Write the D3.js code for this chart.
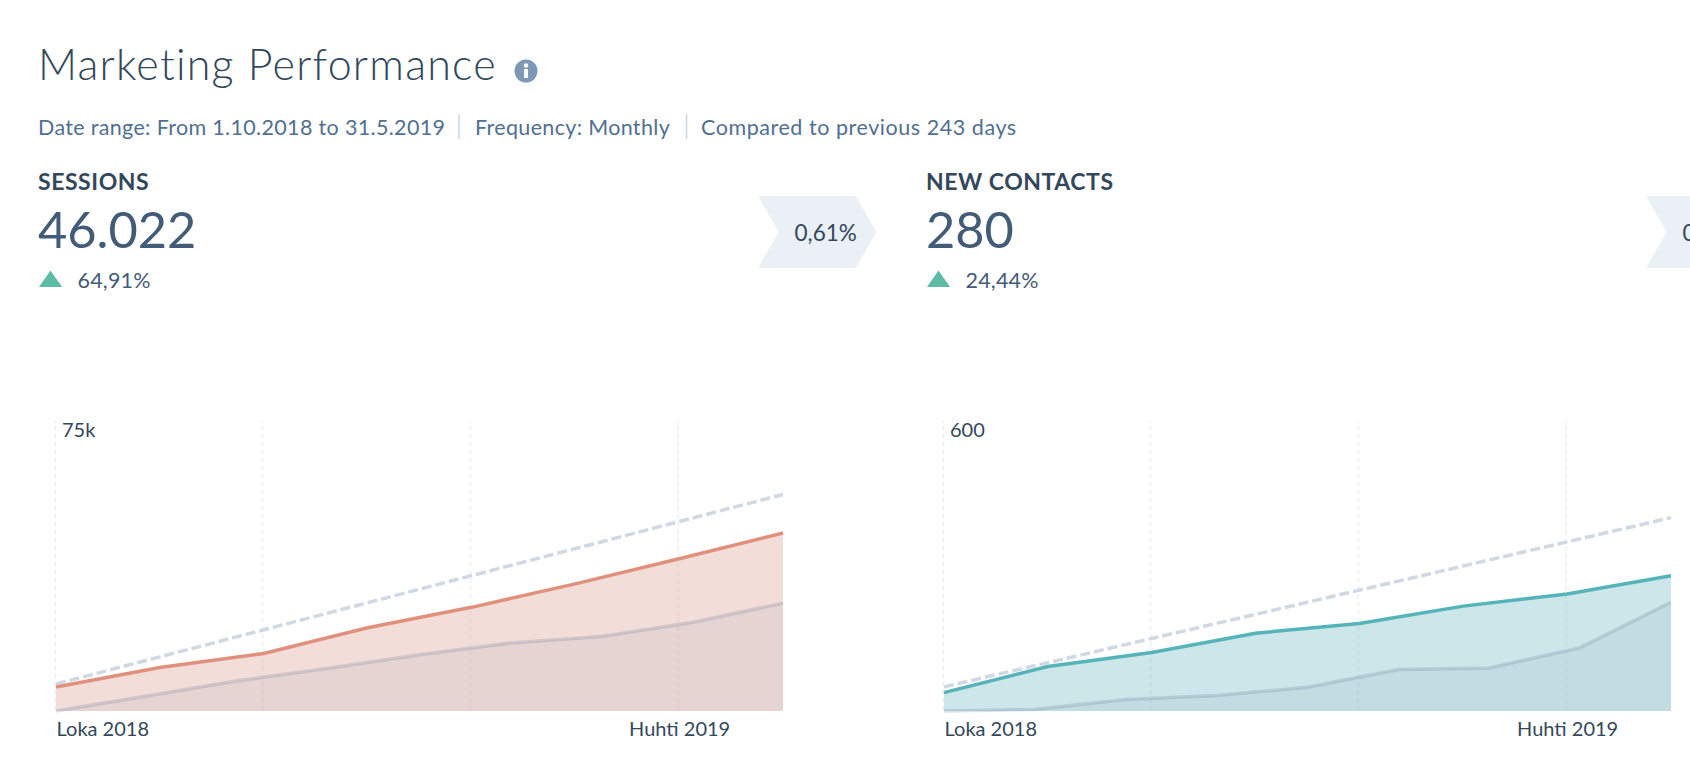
<!DOCTYPE html>
<html>
<head>
<meta charset="utf-8">
<script src="https://cdnjs.cloudflare.com/ajax/libs/d3/7.8.5/d3.min.js"></script>
<style>
    html, body { margin: 0; padding: 0; background: #fff; overflow: hidden; }
    svg { display: block; font-family: Lato, "Open Sans", sans-serif; }
    .grid line { stroke: #f1f5f9; stroke-width: 2; stroke-dasharray: 5 3; transform: translateX(-1.5px); }
    .axis-label text { fill: #33475b; font-size: 20px; font-family: Lato, sans-serif; }
</style>
</head>
<body>
<svg id="chart" width="1690" height="770"></svg>
<script>
const months = ["Loka 2018", "Marras 2018", "Joulu 2018", "Tammi 2019", "Helmi 2019", "Maalis 2019", "Huhti 2019", "Touko 2019"];
const priorMonths = ["Tammi 2018", "Helmi 2018", "Maalis 2018", "Huhti 2018", "Touko 2018", "Kesä 2018", "Heinä 2018", "Elo 2018", "Syys 2018"];
const gridMonths = ["Loka 2018", "Joulu 2018", "Helmi 2019", "Huhti 2019"];
const labelledMonths = ["Loka 2018", "Huhti 2019"];

const sessionsValues = [6230, 11240, 14870, 21540, 26810, 32880, 39370, 46022];
const sessionsPrior = [0, 3900, 7800, 11080, 14530, 17570, 19280, 22900, 27906];
const sessionsGoal = [7000, 14000, 21000, 28000, 35000, 42000, 49000, 56000];

const contactsValues = [38, 92, 121, 161, 181, 217, 242, 280];
const contactsPrior = [0, 3, 24, 32, 49, 86, 89, 131, 225];
const contactsGoal = [50, 100, 150, 200, 250, 300, 350, 400];

const subtitleLabels = ["Date range: From 1.10.2018 to 31.5.2019", "Frequency: Monthly", "Compared to previous 243 days"];

const svg = d3.select("#chart");

const plotTop = 421;
const plotBottom = 711;
const plotWidth = 727;
const subtitleX = [38, 475, 701];
const subtitleSpacing = [0.33, 0.33, 0.55];

// page header
svg.append("text").attr("x", 38).attr("y", 80)
    .attr("fill", "#33475b").attr("font-size", 43).attr("font-weight", 300)
    .attr("letter-spacing", 1.24)
    .text("Marketing Performance");

const info = svg.append("g").attr("transform", "translate(526,71)");
info.append("circle").attr("r", 11.5).attr("fill", "#7f98b6");
info.append("circle").attr("cy", -5.5).attr("r", 2.2).attr("fill", "#fff");
info.append("rect").attr("x", -2).attr("y", -2).attr("width", 4).attr("height", 9).attr("fill", "#fff");

svg.selectAll(".subtitle").data(subtitleLabels).enter().append("text")
    .attr("class", "subtitle")
    .attr("x", (d, i) => subtitleX[i]).attr("y", 134.5)
    .attr("fill", "#516f90").attr("font-size", 21.5)
    .attr("letter-spacing", (d, i) => subtitleSpacing[i])
    .text(d => d);
svg.selectAll(".divider").data([459, 686.5]).enter().append("line")
    .attr("class", "divider")
    .attr("x1", d => d).attr("x2", d => d).attr("y1", 114).attr("y2", 139)
    .attr("stroke", "#cbd6e2").attr("stroke-width", 1.5);

function drawPanel(offsetX, panel) {
    const g = svg.append("g").attr("transform", `translate(${offsetX},0)`);

    g.append("text").attr("x", 38).attr("y", 190)
        .attr("fill", "#33475b").attr("font-size", 23).attr("font-weight", 700)
        .attr("letter-spacing", 0.55)
        .text(panel.title);
    g.append("text").attr("x", 38).attr("y", 248)
        .attr("fill", "#425b76").attr("font-size", 50.5)
        .text(panel.total);
    g.append("path").attr("d", "M39,287L50.5,270.5L62,287Z").attr("fill", "#5cbba6");
    g.append("text").attr("x", 77.5).attr("y", 287.5)
        .attr("fill", "#425b76").attr("font-size", 21.5).attr("letter-spacing", 0.2)
        .text(panel.change);

    const chart = g.append("g").attr("transform", "translate(56,0)");

    const x = d3.scalePoint().domain(months).range([0, plotWidth]);
    const xPrior = d3.scalePoint().domain(priorMonths).range([0, plotWidth]);
    const y = d3.scaleLinear().domain([0, panel.max]).range([plotBottom, plotTop]);

    const xAxis = d3.axisBottom(x)
        .tickValues(gridMonths)
        .tickSize(plotTop - plotBottom)
        .tickFormat(d => labelledMonths.includes(d) ? d : "");
    const gX = chart.append("g")
        .attr("class", "grid axis-label")
        .attr("transform", `translate(0,${plotBottom})`)
        .call(xAxis);
    gX.select(".domain").remove();
    gX.selectAll("text")
        .attr("y", 24.5).attr("dy", 0)
        .attr("text-anchor", d => d === months[0] ? "start" : "middle");

    const area = (xScale, xValues) => d3.area()
        .x((d, i) => xScale(xValues[i]))
        .y0(plotBottom)
        .y1(d => y(d));
    const line = (xScale, xValues) => d3.line()
        .x((d, i) => xScale(xValues[i]))
        .y(d => y(d));

    chart.append("path").attr("d", area(x, months)(panel.values))
        .attr("fill", panel.fill).attr("fill-opacity", 0.3);
    chart.append("path").attr("d", area(xPrior, priorMonths)(panel.prior))
        .attr("fill", "#516f90").attr("fill-opacity", 0.08);

    chart.append("path").attr("d", line(xPrior, priorMonths)(panel.prior))
        .attr("fill", "none").attr("stroke", "#516f90").attr("stroke-opacity", 0.2).attr("stroke-width", 3.5);
    chart.append("path").attr("d", line(x, months)(panel.goal))
        .attr("fill", "none").attr("stroke", "#cfd8e3").attr("stroke-width", 3.5).attr("stroke-dasharray", "10 4");
    chart.append("path").attr("d", line(x, months)(panel.values))
        .attr("fill", "none").attr("stroke", panel.color).attr("stroke-width", 3.5);

    const yAxis = d3.axisRight(y)
        .tickValues([panel.max])
        .tickSize(0)
        .tickFormat(d => d >= 1000 ? `${d / 1000}k` : d);
    const gY = chart.append("g").attr("class", "axis-label").call(yAxis);
    gY.select(".domain").remove();
    gY.selectAll("text").attr("x", 6).attr("y", 15.5).attr("dy", 0);
}

function drawChevron(offsetX, label) {
    const g = svg.append("g").attr("transform", `translate(${offsetX},0)`);
    g.append("path")
        .attr("d", "M758,196H856L876.5,232L856,268H758L778.5,232Z")
        .attr("fill", "#eaf0f6");
    g.append("text").attr("x", 794.5).attr("y", 240.5)
        .attr("fill", "#33475b").attr("font-size", 22.5)
        .text(label);
}

drawPanel(0, {
    title: "SESSIONS", total: "46.022", change: "64,91%",
    max: 75000, color: "#e0917c", fill: "#d78e80",
    values: sessionsValues, prior: sessionsPrior, goal: sessionsGoal
});
drawPanel(888, {
    title: "NEW CONTACTS", total: "280", change: "24,44%",
    max: 600, color: "#54b4b9", fill: "#55acb6",
    values: contactsValues, prior: contactsPrior, goal: contactsGoal
});
drawChevron(0, "0,61%");
drawChevron(888, "0");
</script>
</body>
</html>
